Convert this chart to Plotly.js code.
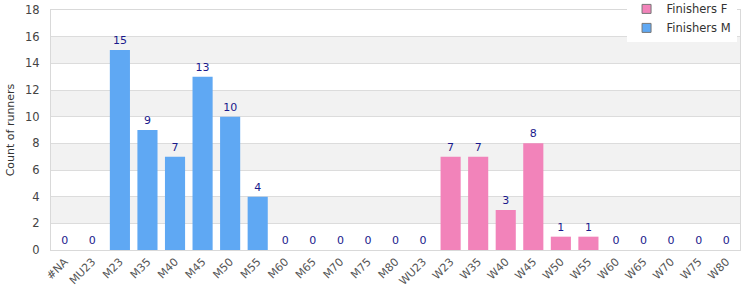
<!DOCTYPE html>
<html><head><meta charset="utf-8">
<script src="https://cdn.plot.ly/plotly-3.0.1.min.js"></script>
<style>body{margin:0;padding:0;}#chart{width:750px;height:300px;}</style>
</head><body><div id="chart"></div>
<script>
const categories = ["#NA","MU23","M23","M35","M40","M45","M50","M55","M60","M65","M70","M75","M80","WU23","W23","W35","W40","W45","W50","W55","W60","W65","W70","W75","W80"];
const finishersM = [0,0,15,9,7,13,10,4,0,0,0,0,0,0,null,null,null,null,null,null,null,null,null,null,null];
const finishersF = [null,null,null,null,null,null,null,null,null,null,null,null,null,null,7,7,3,8,1,1,0,0,0,0,0];
const yTicks = [0,2,4,6,8,10,12,14,16,18];
const colorF = '#f283ba', colorM = '#5fa8f3';

const bands = [];
for (let i = 0; i + 1 < yTicks.length; i++) {
  if (i % 2 === 1) bands.push({type:'rect', xref:'paper', yref:'y', x0:0, x1:1, y0:yTicks[i], y1:yTicks[i+1], fillcolor:'#f2f2f2', line:{width:0}, layer:'below'});
}
const txt = a => a.map(v => v === null ? '' : String(v));
const common = {type:'bar', x:categories, textposition:'outside', cliponaxis:false, showlegend:false,
  textfont:{color:'#1a1a8c', size:11, family:'DejaVu Sans, sans-serif'}, hoverinfo:'none'};
const traces = [
  Object.assign({}, common, {name:'Finishers F', y:finishersF, text:txt(finishersF), marker:{color:colorF, line:{width:0}}}),
  Object.assign({}, common, {name:'Finishers M', y:finishersM, text:txt(finishersM), marker:{color:colorM, line:{width:0}}}),
  {type:'scatter', mode:'markers', name:'Finishers F', x:[categories[0]], y:[null], showlegend:true, hoverinfo:'none', marker:{symbol:'square', size:9, color:colorF, line:{color:'#777', width:1}}},
  {type:'scatter', mode:'markers', name:'Finishers M', x:[categories[0]], y:[null], showlegend:true, hoverinfo:'none', marker:{symbol:'square', size:9, color:colorM, line:{color:'#777', width:1}}}
];
const layout = {
  width:750, height:300,
  margin:{l:51, r:10, t:10, b:50, autoexpand:false},
  paper_bgcolor:'white', plot_bgcolor:'white',
  barmode:'overlay', bargap:0.27,
  font:{family:'DejaVu Sans, sans-serif', size:11, color:'#444'},
  shapes:bands,
  showlegend:true,
  legend:{x:0.995, xanchor:'right', y:1.065, yanchor:'top', bgcolor:'white', font:{size:11.5, color:'#333'}, traceorder:'normal', itemwidth:30, tracegroupgap:0},
  xaxis:{type:'category', categoryarray:categories, categoryorder:'array', range:[-0.5, categories.length - 0.5], autorange:false, tickangle:-45, showline:true, mirror:true, linecolor:'#d9d9d9', linewidth:1, showgrid:false, ticks:'', tickfont:{size:11, color:'#555'}},
  yaxis:{range:[0,18], tickvals:yTicks, showline:true, mirror:true, linecolor:'#d9d9d9', gridcolor:'#dcdcdc', zeroline:false, ticks:'', ticklabelstandoff:8, tickfont:{size:11.5, color:'#444'},
    title:{text:'Count of runners', font:{size:11, color:'#333'}, standoff:8}}
};
Plotly.newPlot('chart', traces, layout, {displayModeBar:false, staticPlot:true});
</script></body></html>
